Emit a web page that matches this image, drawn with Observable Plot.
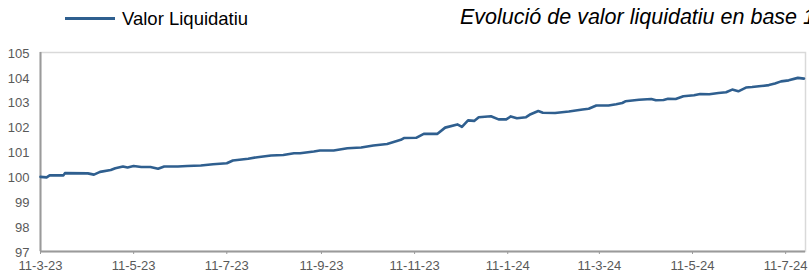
<!DOCTYPE html>
<html>
<head>
<meta charset="utf-8">
<script src="https://cdn.jsdelivr.net/npm/d3@7"></script>
<script src="https://cdn.jsdelivr.net/npm/@observablehq/plot@0.6"></script>
<style>
  html, body { margin: 0; padding: 0; background: #fff; overflow: hidden; width: 809px; height: 275px; }
  #header { position: relative; width: 809px; height: 40px; font-family: "Liberation Sans", Arial, sans-serif; overflow: hidden; }
  #swatch { position: absolute; left: 65px; top: 17px; width: 50px; height: 0; border-top: 3px solid #2f5f8f; }
  #legend { position: absolute; left: 122px; top: 8px; font-size: 18.5px; color: #000; white-space: nowrap; }
  #title { position: absolute; left: 460px; top: 5px; font-size: 21.5px; font-style: italic; color: #000; white-space: nowrap; }
</style>
</head>
<body>
<div id="header">
  <div id="swatch"></div>
  <div id="legend">Valor Liquidatiu</div>
  <div id="title">Evolució de valor liquidatiu en base 100</div>
</div>
<div id="chart"></div>
<script>
const dates = [
  "2023-03-11","2023-03-15","2023-03-17","2023-03-26","2023-03-27","2023-04-11","2023-04-15","2023-04-19",
  "2023-04-26","2023-04-29","2023-05-04","2023-05-07","2023-05-11","2023-05-16","2023-05-22","2023-05-27",
  "2023-05-31","2023-06-09","2023-06-15","2023-06-24","2023-07-02","2023-07-11","2023-07-15","2023-07-25",
  "2023-07-31","2023-08-09","2023-08-17","2023-08-24","2023-08-28","2023-09-06","2023-09-10","2023-09-19",
  "2023-09-28","2023-10-07","2023-10-15","2023-10-24","2023-11-02","2023-11-04","2023-11-12","2023-11-17",
  "2023-11-26","2023-12-01","2023-12-09","2023-12-12","2023-12-16","2023-12-20","2023-12-23","2023-12-31",
  "2024-01-05","2024-01-10","2024-01-13","2024-01-17","2024-01-23","2024-01-26","2024-01-31","2024-02-03",
  "2024-02-11","2024-02-20","2024-02-29","2024-03-04","2024-03-09","2024-03-17","2024-03-22","2024-03-26",
  "2024-03-28","2024-04-06","2024-04-14","2024-04-17","2024-04-22","2024-04-25","2024-04-30","2024-05-05",
  "2024-05-12","2024-05-16","2024-05-22","2024-05-28","2024-06-02","2024-06-06","2024-06-10","2024-06-15",
  "2024-06-19","2024-06-25","2024-06-30","2024-07-04","2024-07-08","2024-07-13","2024-07-19","2024-07-23"
];
const values = [
  100.00, 99.98, 100.06, 100.06, 100.15, 100.14, 100.09, 100.20,
  100.28, 100.35, 100.42, 100.38, 100.44, 100.40, 100.40, 100.33,
  100.42, 100.42, 100.44, 100.46, 100.51, 100.55, 100.66, 100.73,
  100.79, 100.86, 100.88, 100.95, 100.95, 101.02, 101.06, 101.06,
  101.15, 101.18, 101.26, 101.32, 101.49, 101.56, 101.57, 101.73,
  101.73, 101.98, 102.11, 102.01, 102.27, 102.25, 102.40, 102.44,
  102.31, 102.31, 102.43, 102.36, 102.40, 102.52, 102.65, 102.58,
  102.57, 102.63, 102.71, 102.74, 102.87, 102.87, 102.92, 102.97,
  103.04, 103.10, 103.13, 103.08, 103.09, 103.14, 103.13, 103.24,
  103.28, 103.33, 103.32, 103.37, 103.40, 103.51, 103.44, 103.59,
  103.61, 103.65, 103.69, 103.75, 103.84, 103.88, 103.98, 103.95
];
const xTickLabels = ["2023-03-11","2023-05-11","2023-07-11","2023-09-11","2023-11-11","2024-01-11","2024-03-11","2024-05-11","2024-07-11"];
const yTicks = [97, 98, 99, 100, 101, 102, 103, 104, 105];
const xDomain = ["2023-03-11", "2024-07-24"];

const data = dates.map((d, i) => ({date: new Date(d), value: values[i]}));
const fmt = d3.utcFormat("%-d-%-m-%y");

const chart = Plot.plot({
  width: 809,
  height: 235,
  marginTop: 12,
  marginBottom: 24,
  marginLeft: 40,
  marginRight: 4,
  style: {fontFamily: "'Liberation Sans', Arial, sans-serif", background: "#fff", overflow: "visible"},
  x: {type: "utc", domain: xDomain.map(d => new Date(d)), label: null},
  y: {domain: [97, 105], label: null},
  marks: [
    Plot.frame({stroke: "#d9d9d9", strokeWidth: 1.5}),
    Plot.ruleY([97], {stroke: "#9a9a9a", strokeWidth: 2}),
    Plot.ruleX([new Date(xDomain[0])], {stroke: "#9a9a9a", strokeWidth: 2}),
    Plot.axisX({ticks: xTickLabels.map(d => new Date(d)), tickFormat: fmt, tickSize: 3, tickPadding: 6,
      stroke: "#9a9a9a", fill: "#595959", fontSize: 13, label: null}),
    Plot.axisY({ticks: yTicks, tickSize: 0, tickPadding: 11, dy: 1, fill: "#595959", fontSize: 13, label: null}),
    Plot.line(data, {x: "date", y: "value", stroke: "#2f5f8f", strokeWidth: 2.6, curve: "linear"})
  ]
});
document.getElementById("chart").appendChild(chart);
</script>
</body>
</html>
